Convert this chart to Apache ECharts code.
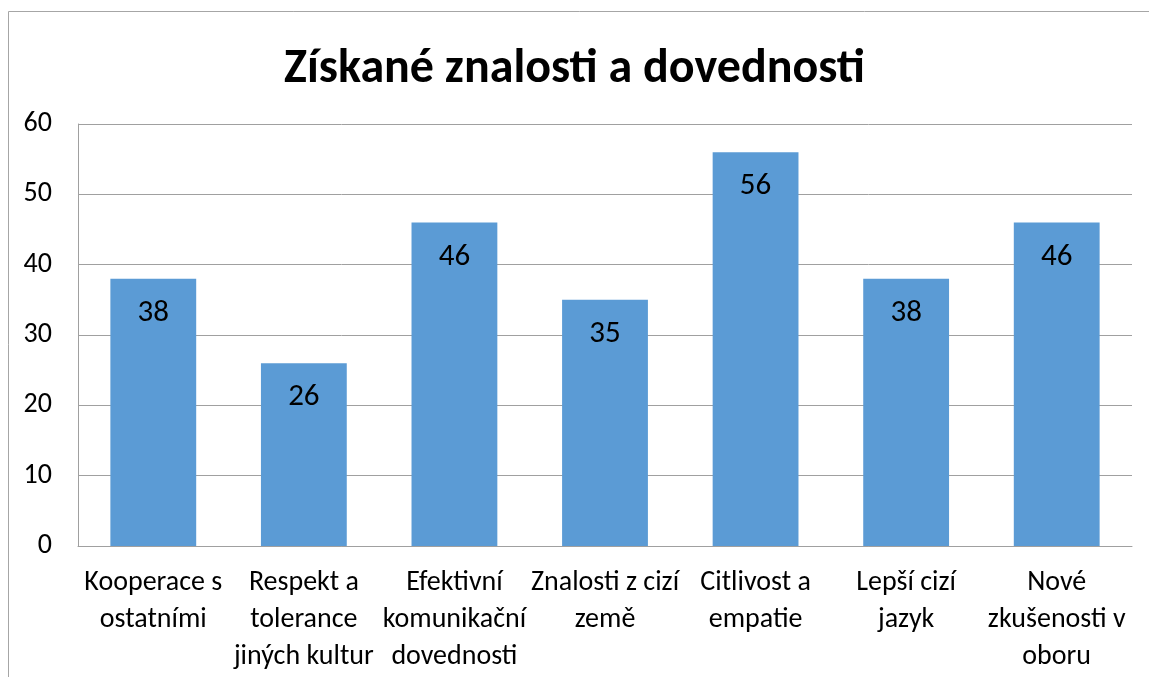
<!DOCTYPE html>
<html>
<head>
<meta charset="utf-8">
<script src="https://cdn.jsdelivr.net/npm/echarts@6/dist/echarts.min.js"></script>
<style>
  html, body { margin: 0; padding: 0; background: #fff; }
  #chart { width: 1149px; height: 677px; }
</style>
</head>
<body>
<div id="chart"></div>
<script>
const title = 'Získané znalosti a dovednosti'
const categories = [
  'Kooperace s\nostatními',
  'Respekt a\ntolerance\njiných kultur',
  'Efektivní\nkomunikační\ndovednosti',
  'Znalosti z cizí\nzemě',
  'Citlivost a\nempatie',
  'Lepší cizí\njazyk',
  'Nové\nzkušenosti v\noboru'
]
const values = [38, 26, 46, 35, 56, 38, 46]
const yTicks = [0, 10, 20, 30, 40, 50, 60]

const font = 'Carlito, "Open Sans", "Noto Sans", sans-serif'
const gray = '#a0a0a0'

let chart = echarts.init(document.getElementById('chart'))

chart.setOption({
  animation: false,
  textStyle: { fontFamily: font },
  title: {
    text: title,
    left: 'center',
    top: 41,
    textStyle: { fontSize: 48, fontWeight: 'bold', color: '#000', fontFamily: font }
  },
  // outer chart border, cut off at right and bottom like the screenshot
  graphic: [{
    type: 'rect',
    shape: { x: 8.5, y: 11.5, width: 1200, height: 700 },
    style: { fill: 'none', stroke: '#a6a6a6', lineWidth: 1 },
    silent: true
  }],
  grid: { left: 78, right: 17, top: 124, bottom: 131 },
  xAxis: {
    type: 'category',
    data: categories,
    axisLine: { lineStyle: { color: gray } },
    axisTick: { show: false },
    axisLabel: {
      interval: 0,
      margin: 18,
      fontSize: 28,
      lineHeight: 37,
      color: '#000',
      fontFamily: font,
      align: 'center',
      verticalAlign: 'top'
    }
  },
  yAxis: {
    type: 'value',
    min: yTicks[0],
    max: yTicks[yTicks.length - 1],
    interval: 10,
    axisLine: { show: true, lineStyle: { color: gray } },
    axisTick: { show: false },
    splitLine: { lineStyle: { color: gray } },
    axisLabel: { fontSize: 28, color: '#000', margin: 26, fontFamily: font }
  },
  series: [{
    type: 'bar',
    data: values,
    barWidth: '57%',
    itemStyle: { color: '#5B9BD5' },
    label: {
      show: true,
      position: 'insideTop',
      distance: 19,
      fontSize: 31,
      color: '#000',
      fontFamily: font
    }
  }]
})

window.addEventListener('resize', () => {
  chart.resize()
})
</script>
</body>
</html>
